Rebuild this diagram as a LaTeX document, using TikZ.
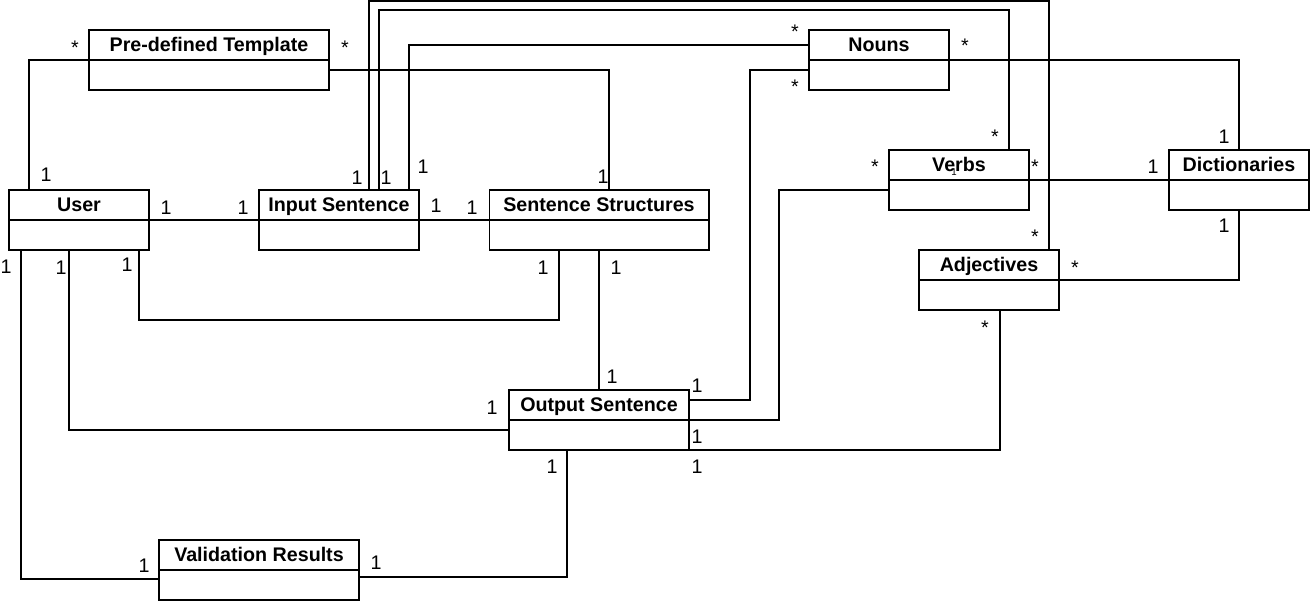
\documentclass[tikz,border=0pt]{standalone}
\usepackage{fontspec}
\setmainfont{Liberation Sans}
\usetikzlibrary{positioning}

\begin{document}
\begin{tikzpicture}[x=0.02cm, y=-0.02cm,
  cls/.style={draw, line width=0.6pt, outer sep=0pt, inner sep=0pt,
    minimum height=6mm, text height=7.6pt, text depth=0pt,
    font=\fontsize{11.2}{13}\selectfont\bfseries},
  body/.style={draw, line width=0.6pt, outer sep=0pt, inner sep=0pt,
    minimum height=6mm},
  assoc/.style={line width=0.6pt},
  mult/.style={inner sep=0pt, font=\fontsize{11.2}{13}\selectfont},
]
  \useasboundingbox (0,0) rectangle (1312,601);

  % Classes: name compartment + empty compartment
  \node[cls, minimum width=48mm] (tmpl) at (209,45) {Pre-defined Template};
  \node[body, minimum width=48mm, below=0pt of tmpl] (tmplB) {};
  \node[cls, minimum width=28mm] (user) at (79,205) {User};
  \node[body, minimum width=28mm, below=0pt of user] (userB) {};
  \node[cls, minimum width=32mm] (inp) at (339,205) {Input Sentence};
  \node[body, minimum width=32mm, below=0pt of inp] (inpB) {};
  \node[cls, minimum width=44mm] (struct) at (599,205) {Sentence Structures};
  \node[body, minimum width=44mm, below=0pt of struct] (structB) {};
  \node[cls, minimum width=28mm] (nouns) at (879,45) {Nouns};
  \node[body, minimum width=28mm, below=0pt of nouns] (nounsB) {};
  \node[cls, minimum width=28mm] (verbs) at (959,165) {Verbs};
  \node[body, minimum width=28mm, below=0pt of verbs] (verbsB) {};
  \node[cls, minimum width=28mm] (dict) at (1239,165) {Dictionaries};
  \node[body, minimum width=28mm, below=0pt of dict] (dictB) {};
  \node[cls, minimum width=28mm] (adj) at (989,265) {Adjectives};
  \node[body, minimum width=28mm, below=0pt of adj] (adjB) {};
  \node[cls, minimum width=36mm] (outp) at (599,405) {Output Sentence};
  \node[body, minimum width=36mm, below=0pt of outp] (outpB) {};
  \node[cls, minimum width=40mm] (valid) at (259,555) {Validation Results};
  \node[body, minimum width=40mm, below=0pt of valid] (validB) {};
  \node[mult, font=\fontsize{5.5}{6}\selectfont] (verbs1) at (954,172) {1};

  % User -- Pre-defined Template
  \draw[assoc] ([xshift=-1cm]user.north) |- (tmpl.south west);
  \node[mult] (m1a) at (46,175) {1}; \node[mult] (m1b) at (75,48) {*};

  % User -- Input Sentence
  \draw[assoc] (user.south east) -- (inp.south west);
  \node[mult] (m2a) at (166,208) {1}; \node[mult] (m2b) at (243,208) {1};

  % Input Sentence -- Sentence Structures
  \draw[assoc] (inp.south east) -- (struct.south west);
  \node[mult] (m3a) at (436,206) {1}; \node[mult] (m3b) at (472,208) {1};

  % Pre-defined Template -- Sentence Structures
  \draw[assoc] ([yshift=0.1cm]tmplB.east) -| ([xshift=0.2cm]struct.north);
  \node[mult] (m4a) at (345,48) {*}; \node[mult] (m4b) at (603,177) {1};

  % Input Sentence -- Adjectives
  \draw[assoc] ([xshift=0.6cm]inp.north) -- ++(0,-189) -| ([xshift=1.2cm]adj.north);
  \node[mult] (m5a) at (357,178) {1}; \node[mult] (m5b) at (1035,237) {*};

  % Input Sentence -- Verbs
  \draw[assoc] ([xshift=0.8cm]inp.north) -- ++(0,-180) -| ([xshift=1cm]verbs.north);
  \node[mult] (m6a) at (386,178) {1}; \node[mult] (m6b) at (995,137) {*};

  % Input Sentence -- Nouns
  \draw[assoc] ([xshift=1.4cm]inp.north) |- (nouns.west);
  \node[mult] (m7a) at (423,167) {1}; \node[mult] (m7b) at (795,32) {*};

  % Nouns -- Output Sentence
  \draw[assoc] ([yshift=0.1cm]nounsB.west) -- ++(-59,0) |- ([yshift=0.1cm]outp.east);
  \node[mult] (m8a) at (795,87) {*}; \node[mult] (m8b) at (697,386) {1};

  % Nouns -- Dictionaries
  \draw[assoc] (nouns.south east) -| (dict.north);
  \node[mult] (m9a) at (965,46) {*}; \node[mult] (m9b) at (1224,137) {1};

  % Verbs -- Dictionaries
  \draw[assoc] (verbs.south east) -- (dict.south west);
  \node[mult] (m10a) at (1035,167) {*}; \node[mult] (m10b) at (1153,167) {1};

  % Verbs -- Output Sentence
  \draw[assoc] ([yshift=0.1cm]verbsB.west) -- ++(-110,0) |- (outp.south east);
  \node[mult] (m11a) at (875,167) {*}; \node[mult] (m11b) at (697,437) {1};

  % Adjectives -- Dictionaries
  \draw[assoc] (adj.south east) -| (dictB.south);
  \node[mult] (m12a) at (1075,268) {*}; \node[mult] (m12b) at (1224,226) {1};

  % Adjectives -- Output Sentence
  \draw[assoc] ([xshift=0.22cm]adjB.south) |- (outpB.south east);
  \node[mult] (m13a) at (985,328) {*}; \node[mult] (m13b) at (697,467) {1};

  % Sentence Structures -- Output Sentence
  \draw[assoc] (structB.south) -- (outp.north);
  \node[mult] (m14a) at (616,268) {1}; \node[mult] (m14b) at (612,377) {1};

  % User -- Sentence Structures
  \draw[assoc] ([xshift=1.2cm]userB.south) -- ++(0,70) -| ([xshift=-0.8cm]structB.south);
  \node[mult] (m15a) at (127,265) {1}; \node[mult] (m15b) at (543,268) {1};

  % User -- Output Sentence
  \draw[assoc] ([xshift=-0.2cm]userB.south) |- ([yshift=0.1cm]outpB.west);
  \node[mult] (m16a) at (61,268) {1}; \node[mult] (m16b) at (492,408) {1};

  % User -- Validation Results
  \draw[assoc] ([xshift=-1.16cm]userB.south) |- ([yshift=0.12cm]validB.west);
  \node[mult] (m17a) at (6,267) {1}; \node[mult] (m17b) at (144,566) {1};

  % Validation Results -- Output Sentence
  \draw[assoc] ([yshift=0.16cm]validB.east) -| ([xshift=-0.64cm]outpB.south);
  \node[mult] (m18a) at (376,563) {1}; \node[mult] (m18b) at (552,467) {1};
\end{tikzpicture}
\end{document}
